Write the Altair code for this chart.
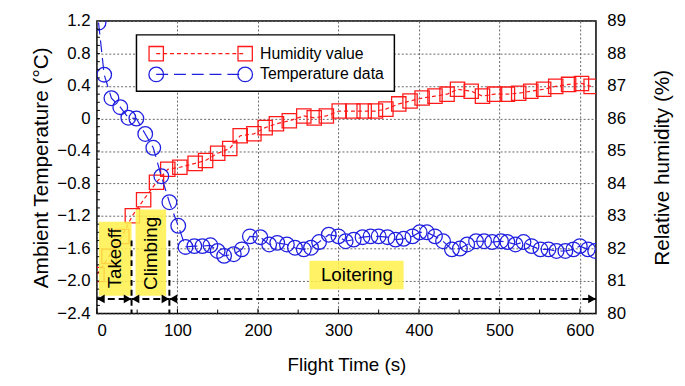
import altair as alt
import pandas as pd

# ---------------- data ----------------
temp_time = [2, 9, 18, 29, 39, 49, 60, 70, 80, 90,
             101, 110, 121, 131, 141, 150, 158, 170, 180, 190,
             203, 214, 224, 236, 246, 257, 266, 276, 288, 300,
             309, 319, 330, 340, 350, 361, 371, 381, 392, 401,
             410, 420, 430, 441, 451, 460, 471, 481, 491, 502,
             510, 520, 530, 540, 551, 561, 571, 582, 592, 600,
             610, 619]
temp_val = [1.18, 0.54, 0.25, 0.14, 0.01, 0.0, -0.19, -0.36, -0.71, -1.03,
            -1.32, -1.58, -1.57, -1.57, -1.56, -1.63, -1.69, -1.67, -1.61, -1.45,
            -1.46, -1.55, -1.53, -1.55, -1.59, -1.61, -1.59, -1.52, -1.43, -1.45,
            -1.51, -1.49, -1.46, -1.45, -1.45, -1.46, -1.49, -1.48, -1.45, -1.40,
            -1.40, -1.45, -1.51, -1.61, -1.60, -1.55, -1.51, -1.51, -1.52, -1.51,
            -1.52, -1.55, -1.52, -1.57, -1.61, -1.61, -1.63, -1.63, -1.61, -1.57,
            -1.61, -1.63]

hum_time = [0, 15, 31, 44, 58, 74, 88, 103, 122, 135,
            150, 165, 178, 195, 209, 223, 239, 257, 270, 285,
            301, 318, 332, 346, 359, 375, 389, 404, 420, 435,
            448, 465, 479, 494, 510, 524, 539, 555, 570, 586,
            602, 614]
hum_val = [81.2, 81.76, 82.37, 83.01, 83.5, 84.04, 84.44, 84.5, 84.62, 84.71,
           84.93, 85.08, 85.47, 85.53, 85.72, 85.84, 85.93, 86.08, 86.02, 86.08,
           86.23, 86.23, 86.23, 86.23, 86.29, 86.45, 86.54, 86.63, 86.69, 86.75,
           86.9, 86.84, 86.69, 86.75, 86.75, 86.78, 86.84, 86.9, 86.99, 87.05,
           87.08, 86.99]

x_ticks = [0, 100, 200, 300, 400, 500, 600]
x_minor = [50, 150, 250, 350, 450, 550]
temp_ticks = [-2.4, -2.0, -1.6, -1.2, -0.8, -0.4, 0, 0.4, 0.8, 1.2]
temp_minor = [-2.3, -2.2, -2.1, -2.0, -1.9, -1.8, -1.7, -1.6, -1.5, -1.4,
              -1.3, -1.2, -1.1, -1.0, -0.9, -0.8, -0.7, -0.6, -0.5, -0.4,
              -0.3, -0.2, -0.1, 0.0, 0.1, 0.2, 0.3, 0.4, 0.5, 0.6, 0.7,
              0.8, 0.9, 1.0, 1.1]
hum_ticks = [80, 81, 82, 83, 84, 85, 86, 87, 88, 89]

phase_names = ["Takeoff", "Climbing", "Loitering"]
phase_bounds = [0, 43, 90, 620]

series_names = ["Humidity value", "Temperature data"]

# ---------------- styling ----------------
FONT = "Liberation Sans"
RED = "#ff1a1a"
BLUE = "#1f1fe0"
YELLOW = "#fff14a"

temp_df = pd.DataFrame({"t": temp_time, "T": temp_val})
hum_df = pd.DataFrame({"t": hum_time, "RH": hum_val})

xscale = alt.Scale(domain=[0, 620], nice=False, zero=False)
tscale = alt.Scale(domain=[-2.4, 1.2], nice=False, zero=False)
hscale = alt.Scale(domain=[80, 89], nice=False, zero=False)

xaxis = alt.Axis(title="Flight Time (s)", values=x_ticks, grid=True,
                 gridDash=[2, 2], gridColor="#666", gridWidth=1,
                 ticks=False, domain=False, labelFontSize=17,
                 titleFontSize=19, labelPadding=9, titlePadding=18)
taxis = alt.Axis(title="Ambient Temperature (°C)", values=temp_ticks,
                 grid=True, gridDash=[2, 2], gridColor="#666", gridWidth=1,
                 ticks=False, domain=False, labelFontSize=17,
                 titleFontSize=21, labelPadding=7, titlePadding=5,
                 orient="left",
                 labelExpr="datum.value == 0 ? '0' : format(datum.value, '.1f')")
haxis = alt.Axis(title="Relative humidity (%)", values=hum_ticks, grid=False,
                 ticks=False, domain=False, labelFontSize=17,
                 titleFontSize=21, labelPadding=11, titlePadding=27,
                 orient="right", titleAngle=270, titleBaseline="top")

X = alt.X("t:Q", scale=xscale, axis=xaxis)


def xq(field):
    return alt.X(field, scale=xscale, axis=xaxis)


def yt(field):
    return alt.Y(field, scale=tscale, axis=taxis)


hum_line = alt.Chart(hum_df).mark_line(
    color=RED, strokeDash=[4, 3], strokeWidth=1.2, clip=True
).encode(x=X, y=alt.Y("RH:Q", scale=hscale, axis=haxis))
hum_pts = alt.Chart(hum_df).mark_point(
    shape="square", size=210, filled=False, color=RED, strokeWidth=1.3,
    opacity=1, clip=True
).encode(x=X, y=alt.Y("RH:Q", scale=hscale, axis=haxis))
hum_group = alt.layer(hum_line, hum_pts)

temp_line = alt.Chart(temp_df).mark_line(
    color=BLUE, strokeDash=[12, 6], strokeWidth=1.2, clip=True
).encode(x=X, y=yt("T:Q"))
temp_pts = alt.Chart(temp_df).mark_point(
    shape="circle", size=220, filled=False, color=BLUE, strokeWidth=1.3,
    opacity=1, clip=True
).encode(x=X, y=yt("T:Q"))

# ---------------- inner minor ticks ----------------
xminor_ticks = alt.Chart(pd.DataFrame({"t": x_minor})).mark_rule(
    color="black", strokeWidth=1
).encode(x=xq("t:Q"), y=alt.value(296), y2=alt.value(292))
xmajor_ticks = alt.Chart(pd.DataFrame({"t": x_ticks})).mark_rule(
    color="black", strokeWidth=1
).encode(x=xq("t:Q"), y=alt.value(296), y2=alt.value(291))
tminor_ticks = alt.Chart(pd.DataFrame({"T": temp_minor})).mark_rule(
    color="black", strokeWidth=1
).encode(y=yt("T:Q"), x=alt.value(0), x2=alt.value(3))

# ---------------- annotations (phases) ----------------
box_df = pd.DataFrame({
    "t": [2.5, 48, 264], "t2": [43, 86, 381],
    "T": [-1.27, -1.12, -1.75], "T2": [-2.18, -2.18, -2.10],
})
boxes = alt.Chart(box_df).mark_rect(color=YELLOW, opacity=0.85).encode(
    x=xq("t:Q"), x2="t2:Q", y=yt("T:Q"), y2="T2:Q")

vlab_df = pd.DataFrame({"t": [22, 67], "T": [-1.72, -1.66],
                        "name": phase_names[:2]})
vlabels = alt.Chart(vlab_df).mark_text(
    angle=270, fontSize=19, font=FONT, color="black"
).encode(x=xq("t:Q"), y=yt("T:Q"), text="name:N")
hlab_df = pd.DataFrame({"t": [323], "T": [-1.93], "name": phase_names[2:]})
hlabels = alt.Chart(hlab_df).mark_text(
    fontSize=19, font=FONT, color="black"
).encode(x=xq("t:Q"), y=yt("T:Q"), text="name:N")

vline_df = pd.DataFrame({"t": phase_bounds[1:3], "T": [-1.5, -1.5],
                         "T2": [-2.4, -2.4]})
vlines = alt.Chart(vline_df).mark_rule(
    color="black", strokeDash=[6, 4], strokeWidth=2
).encode(x=xq("t:Q"), y=yt("T:Q"), y2="T2:Q")

arrow_df = pd.DataFrame({"t": phase_bounds[:3], "t2": phase_bounds[1:],
                         "T": [-2.22, -2.22, -2.22]})
arrows = alt.Chart(arrow_df).mark_rule(
    color="black", strokeDash=[7, 4], strokeWidth=2
).encode(x=xq("t:Q"), x2="t2:Q", y=yt("T:Q"))
head_l = alt.Chart(arrow_df).mark_point(
    shape="triangle-left", size=80, filled=True, color="black", opacity=1,
    xOffset=4
).encode(x=xq("t:Q"), y=yt("T:Q"))
head_r = alt.Chart(arrow_df).mark_point(
    shape="triangle-right", size=80, filled=True, color="black", opacity=1,
    xOffset=-4
).encode(x=xq("t2:Q"), y=yt("T:Q"))

# ---------------- legend box ----------------
one = pd.DataFrame({"k": [0]})
leg_box = alt.Chart(one).mark_rect(
    fill="white", stroke="black", strokeWidth=1.5
).encode(x=alt.value(40), x2=alt.value(301), y=alt.value(14),
         y2=alt.value(71))
leg_red_line = alt.Chart(one).mark_rule(
    color=RED, strokeDash=[4, 3], strokeWidth=1.2
).encode(x=alt.value(60), x2=alt.value(150), y=alt.value(33))
leg_blue_line = alt.Chart(one).mark_rule(
    color=BLUE, strokeDash=[12, 6], strokeWidth=1.2
).encode(x=alt.value(60), x2=alt.value(150), y=alt.value(54))
leg_marks = []
for px in (60, 150):
    leg_marks.append(alt.Chart(one).mark_point(
        shape="square", size=210, filled=False, color=RED, strokeWidth=1.3,
        opacity=1).encode(x=alt.value(px), y=alt.value(33)))
    leg_marks.append(alt.Chart(one).mark_point(
        shape="circle", size=220, filled=False, color=BLUE, strokeWidth=1.3,
        opacity=1).encode(x=alt.value(px), y=alt.value(54)))
leg_text1 = alt.Chart(one).mark_text(
    align="left", baseline="middle", fontSize=16, font=FONT, color="black",
    text=series_names[0]
).encode(x=alt.value(165), y=alt.value(33))
leg_text2 = alt.Chart(one).mark_text(
    align="left", baseline="middle", fontSize=16, font=FONT, color="black",
    text=series_names[1]
).encode(x=alt.value(165), y=alt.value(54))

temp_group = alt.layer(temp_line, temp_pts, xminor_ticks, xmajor_ticks,
                       tminor_ticks, boxes, vlabels, hlabels, vlines,
                       arrows, head_l, head_r, leg_box, leg_red_line,
                       leg_blue_line, *leg_marks, leg_text1, leg_text2)

chart = alt.layer(hum_group, temp_group).resolve_scale(
    y="independent"
).properties(
    width=505, height=296,
    padding={"left": 90, "top": 11, "right": 82, "bottom": 60},
    autosize=alt.AutoSizeParams(type="none"),
    background="white",
).configure_view(
    stroke="black", strokeWidth=1.5
).configure_axis(
    labelFont=FONT, titleFont=FONT, labelColor="black", titleColor="black",
    titleFontWeight="normal"
)

chart.save("out.html", embed_options={"renderer": "svg", "actions": False})
